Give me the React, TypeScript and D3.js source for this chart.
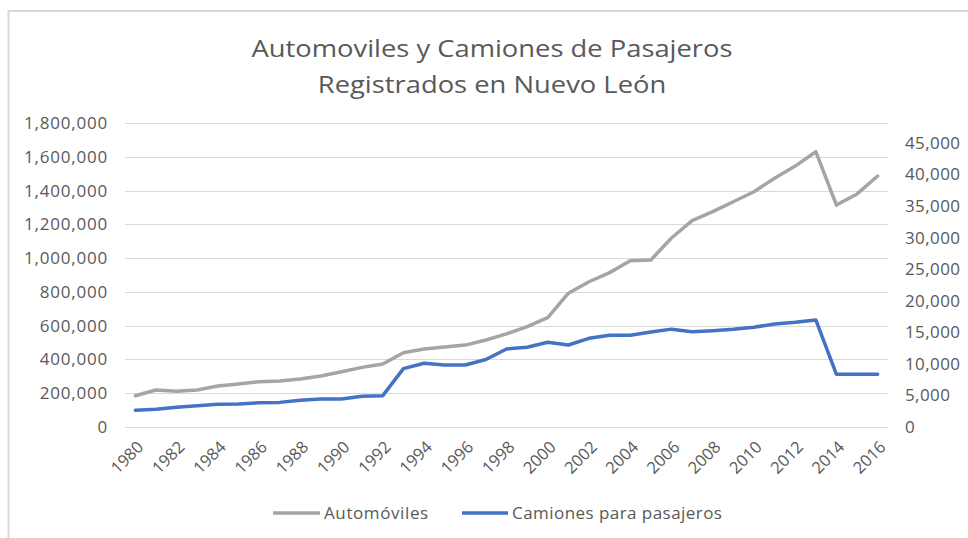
import React from 'react';
import * as d3 from 'd3';

const years = ['1980','1981','1982','1983','1984','1985','1986','1987','1988','1989','1990','1991','1992','1993','1994','1995','1996','1997','1998','1999','2000','2001','2002','2003','2004','2005','2006','2007','2008','2009','2010','2011','2012','2013','2014','2015','2016'];
const automoviles = [185000, 219000, 212000, 219000, 243000, 255000, 268000, 272000, 284000, 302000, 327000, 353000, 373000, 440000, 462000, 473000, 485000, 515000, 551000, 594000, 647000, 792000, 860000, 914000, 985000, 989000, 1119000, 1222000, 1275000, 1334000, 1393000, 1473000, 1545000, 1630000, 1314000, 1380000, 1486000];
const camiones = [2650, 2800, 3120, 3380, 3600, 3650, 3850, 3900, 4230, 4440, 4440, 4860, 4960, 9240, 10090, 9820, 9820, 10700, 12360, 12630, 13420, 12990, 14050, 14530, 14530, 15050, 15500, 15100, 15260, 15480, 15800, 16320, 16590, 16950, 8350, 8350, 8350];
const leftTicks = [0, 200000, 400000, 600000, 800000, 1000000, 1200000, 1400000, 1600000, 1800000];
const rightTicks = [0, 5000, 10000, 15000, 20000, 25000, 30000, 35000, 40000, 45000];
const xLabels = ['1980','1982','1984','1986','1988','1990','1992','1994','1996','1998','2000','2002','2004','2006','2008','2010','2012','2014','2016'];
const titleLines = ['Automoviles y Camiones de Pasajeros', 'Registrados en Nuevo León'];
const seriesNames = ['Automóviles', 'Camiones para pasajeros'];

const FONT = '"Open Sans", "DejaVu Sans", sans-serif';
const TEXT = '#595959';
const GRID = '#d9d9d9';
const GRAY = '#a5a5a5';
const BLUE = '#4472c4';

export default function App() {
  const W = 968, H = 538;
  const plotLeft = 125, plotRight = 888, plotTop = 123, plotBottom = 427;
  const x = d3.scaleBand<string>().domain(years).range([plotLeft, plotRight]).paddingInner(0).paddingOuter(0);
  const cx = (y: string) => (x(y) as number) + x.bandwidth() / 2;
  const yL = d3.scaleLinear().domain([0, 1800000]).range([plotBottom, plotTop]);
  const yR = d3.scaleLinear().domain([0, 48150]).range([plotBottom, plotTop]);
  const fmt = d3.format(',');

  const lineL = d3.line<number>().x((_, i) => cx(years[i])).y(d => yL(d));
  const lineR = d3.line<number>().x((_, i) => cx(years[i])).y(d => yR(d));

  return (
    <div style={{ position: 'fixed', left: 0, top: 0, width: W, height: H, background: '#fff' }}>
      <svg width={W} height={H} style={{ display: 'block' }} fontFamily={FONT}>
        <rect x={0} y={0} width={W} height={H} fill="#fff" />
        <rect x={8.5} y={11} width={W + 20} height={H + 20} fill="none" stroke={GRID} strokeWidth={2} />
        {titleLines.map((t, i) => (
          <text key={t} transform={`translate(492,${57 + i * 36}) scale(1.14,1)`} textAnchor="middle" fontSize={24} fill={TEXT}>{t}</text>
        ))}
        {leftTicks.map(v => (
          <line key={'g' + v} x1={plotLeft} x2={plotRight} y1={Math.round(yL(v)) + 0.5} y2={Math.round(yL(v)) + 0.5} stroke={GRID} strokeWidth={1} />
        ))}
        {leftTicks.map(v => (
          <text key={'l' + v} x={108} y={yL(v)} dy="0.35em" textAnchor="end" fontSize={17} fill={TEXT} letterSpacing={0.8}>{fmt(v)}</text>
        ))}
        {rightTicks.map(v => (
          <text key={'r' + v} x={905} y={yR(v)} dy="0.35em" textAnchor="start" fontSize={17} fill={TEXT} letterSpacing={0.4}>{fmt(v)}</text>
        ))}
        {xLabels.map(l => (
          <text key={'x' + l} transform={`translate(${cx(l) + 5},${444}) rotate(-45)`} textAnchor="end" dy="0.35em" fontSize={16.5} fill={TEXT}>{l}</text>
        ))}
        <path d={lineL(automoviles) || ''} fill="none" stroke={GRAY} strokeWidth={3.5} strokeLinejoin="round" strokeLinecap="round" />
        <path d={lineR(camiones) || ''} fill="none" stroke={BLUE} strokeWidth={3.5} strokeLinejoin="round" strokeLinecap="round" />
        <line x1={273} x2={320} y1={513} y2={513} stroke={GRAY} strokeWidth={3.5} />
        <text x={324} y={513} dy="0.35em" fontSize={17} fill={TEXT} letterSpacing={0.6}>{seriesNames[0]}</text>
        <line x1={462} x2={508} y1={513} y2={513} stroke={BLUE} strokeWidth={3.5} />
        <text x={512} y={513} dy="0.35em" fontSize={17} fill={TEXT} letterSpacing={0.45}>{seriesNames[1]}</text>
      </svg>
    </div>
  );
}
